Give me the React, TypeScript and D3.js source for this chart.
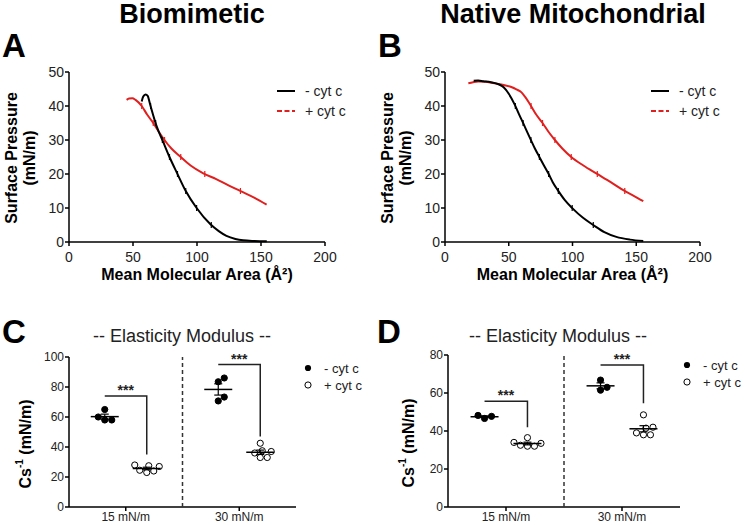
import React from 'react';
import * as d3 from 'd3';

const FONT = '"Liberation Sans", Arial, Helvetica, sans-serif';

// ---------- Panel A: Biomimetic isotherms ----------
const bioNegArea = [56.8, 58, 59.8, 61.5, 63, 64.6, 68.5, 73.5, 78.5, 84.5, 91.2, 99.7, 110.5, 117, 123, 130, 136, 145, 154.5];
const bioNegPressure = [41.3, 42.8, 43.4, 43, 41, 38.8, 34, 29.5, 25, 20.2, 15, 10, 5.2, 3.2, 1.8, 0.9, 0.5, 0.3, 0.2];
const bioPosArea = [45, 47, 49.5, 52, 56.8, 61, 65.8, 70, 74, 80, 86.7, 95, 104.9, 115, 125, 134.5, 145, 154.4];
const bioPosPressure = [41.8, 42.2, 42.3, 41.8, 40, 37.5, 35, 32.5, 30.3, 27.5, 25.2, 22.5, 20.2, 18.5, 16.6, 14.9, 13, 11];

// ---------- Panel B: Native mitochondrial isotherms ----------
const natNegArea = [22.5, 26, 30, 36, 42, 46, 50, 54.7, 58, 61.5, 64.5, 67.5, 70.5, 73.9, 77.5, 81, 84.5, 88.7, 94, 100, 108, 116.3, 125, 134.4, 145, 155.5];
const natNegPressure = [47.4, 47.5, 47.3, 47, 46.4, 45.5, 43.6, 40.4, 37.6, 34.8, 32.3, 29.9, 27.5, 25.1, 22.6, 20.2, 17.6, 15.1, 12.3, 9.9, 7.2, 5, 2.9, 1.5, 0.7, 0.3];
const natPosArea = [18.3, 22, 26, 32, 40, 46, 52, 56, 60, 63, 67, 71.5, 76.5, 81, 86.2, 92, 99, 108.5, 119, 130, 140.5, 148, 155.5];
const natPosPressure = [46.7, 47, 47.2, 47.1, 46.6, 46.2, 45.6, 44.9, 44, 42.6, 40.3, 37.5, 35, 32.5, 30, 27.5, 25, 22.5, 20.1, 17.6, 15.1, 13.6, 12];

const areaTicks = [0, 50, 100, 150, 200];
const pressureTicks = [0, 10, 20, 30, 40, 50];
const markerLevels = [5, 10, 15, 20, 25, 30, 35, 40];

// ---------- Panels C / D: elasticity modulus ----------
const categories = ['15 mN/m', '30 mN/m'];
const cNeg15 = [60, 65, 58, 58];
const cPos15 = [27, 28, 27.5, 24, 23, 24.5];
const cNeg30 = [86, 83.5, 70.7, 73.3];
const cPos30 = [42.5, 37, 37.5, 36, 33, 33];
const cBracketTop = [74, 95];
const cBracketBottom = [35, 47];
const cTicks = [0, 20, 40, 60, 80, 100];

const dNeg15 = [48.2, 46.6, 47.7];
const dPos15 = [36.5, 34, 32, 32, 32.5, 33.5];
const dNeg30 = [66.8, 61.5, 63];
const dPos30 = [48.5, 41.5, 42, 38, 38, 39];
const dBracketTop = [55.6, 74.7];
const dBracketBottom = [42, 54.6];
const dTicks = [0, 20, 40, 60, 80];

const seriesLabels = ['- cyt c', '+ cyt c'];
const RED = '#e0201f';

type Lin = d3.ScaleLinear<number, number>;

function markers(xs: number[], ys: number[]) {
  // crossings of the descending branch with each level
  let peak = 0;
  ys.forEach((v, i) => { if (v > ys[peak]) peak = i; });
  const out: { x: number; y: number }[] = [];
  markerLevels.forEach((lv) => {
    for (let i = peak; i < ys.length - 1; i++) {
      if (ys[i] >= lv && ys[i + 1] < lv) {
        const t = (ys[i] - lv) / (ys[i] - ys[i + 1]);
        out.push({ x: xs[i] + t * (xs[i + 1] - xs[i]), y: lv });
        break;
      }
    }
  });
  return out;
}

function Isotherm(props: {
  x: Lin; y: Lin; title: string; letter: string; titleX: number; letterX: number;
  ylab1X: number; ylab2X: number; legendX: number;
  negA: number[]; negP: number[]; posA: number[]; posP: number[];
}) {
  const { x, y } = props;
  const line = d3.line<[number, number]>().x((d) => x(d[0])).y((d) => y(d[1])).curve(d3.curveMonotoneX);
  const neg = props.negA.map((a, i) => [a, props.negP[i]] as [number, number]);
  const pos = props.posA.map((a, i) => [a, props.posP[i]] as [number, number]);
  const [x0, x1] = x.range();
  const [y0, y1] = y.range();
  const xc = (x0 + x1) / 2;
  const yc = (y0 + y1) / 2;
  return (
    <g fontFamily={FONT}>
      <text x={props.titleX} y={23} fontSize={27} fontWeight="bold" textAnchor="middle">{props.title}</text>
      <text x={props.letterX} y={57} fontSize={33} fontWeight="bold">{props.letter}</text>
      {/* axes */}
      <line x1={x0} x2={x1} y1={y0} y2={y0} stroke="#000" strokeWidth={1.5} />
      <line x1={x0} x2={x0} y1={y0} y2={y1} stroke="#000" strokeWidth={1.5} />
      {areaTicks.map((t) => (
        <g key={'x' + t}>
          <line x1={x(t)} x2={x(t)} y1={y0} y2={y0 + 4} stroke="#000" strokeWidth={1.5} />
          <text x={x(t)} y={y0 + 20} fontSize={14} textAnchor="middle" fill="#222">{t}</text>
        </g>
      ))}
      {pressureTicks.map((t) => (
        <g key={'y' + t}>
          <line x1={x0 - 4} x2={x0} y1={y(t)} y2={y(t)} stroke="#000" strokeWidth={1.5} />
          <text x={x0 - 5} y={y(t)} dy="0.35em" fontSize={14} textAnchor="end" fill="#222">{t}</text>
        </g>
      ))}
      <text x={xc} y={280} fontSize={16} fontWeight="bold" textAnchor="middle">Mean Molecular Area (Å²)</text>
      <text transform={`translate(${props.ylab1X},${yc + 1}) rotate(-90)`} fontSize={16} fontWeight="bold" textAnchor="middle" dominantBaseline="central">Surface Pressure</text>
      <text transform={`translate(${props.ylab2X},${yc + 1}) rotate(-90)`} fontSize={16} fontWeight="bold" textAnchor="middle" dominantBaseline="central">(mN/m)</text>
      {/* curves */}
      <path d={line(pos) || ''} fill="none" stroke={RED} strokeWidth={2} />
      <path d={line(neg) || ''} fill="none" stroke="#000" strokeWidth={2} />
      {markers(props.posA, props.posP).map((m, i) => (
        <line key={'pm' + i} x1={x(m.x)} x2={x(m.x)} y1={y(m.y) - 3} y2={y(m.y) + 3} stroke={RED} strokeWidth={1.2} />
      ))}
      {markers(props.negA, props.negP).map((m, i) => (
        <line key={'nm' + i} x1={x(m.x)} x2={x(m.x)} y1={y(m.y) - 3} y2={y(m.y) + 3} stroke="#000" strokeWidth={1.2} />
      ))}
      {/* legend */}
      <line x1={props.legendX} x2={props.legendX + 18} y1={91} y2={91} stroke="#000" strokeWidth={2} />
      <text x={props.legendX + 28} y={96} fontSize={14} fill="#222">{seriesLabels[0]}</text>
      <line x1={props.legendX} x2={props.legendX + 18} y1={111} y2={111} stroke={RED} strokeWidth={2} strokeDasharray="5,2.5" />
      <text x={props.legendX + 28} y={116} fontSize={14} fill="#222">{seriesLabels[1]}</text>
    </g>
  );
}

function swarm(values: number[], y: Lin, cx: number, r: number) {
  const order = values.map((_, i) => i).sort((a, b) => values[a] - values[b]);
  const placed: { x: number; y: number }[] = [];
  const xs = new Array(values.length).fill(cx);
  order.forEach((i) => {
    const py = y(values[i]);
    for (let k = 0; k < 400; k++) {
      const off = k === 0 ? 0 : (k % 2 === 1 ? 1 : -1) * Math.ceil(k / 2) * 0.5;
      const px = cx + off;
      if (placed.every((p) => (p.x - px) ** 2 + (p.y - py) ** 2 >= (2 * r) ** 2)) {
        placed.push({ x: px, y: py });
        xs[i] = px;
        break;
      }
    }
  });
  return xs;
}

function Group(props: { values: number[]; cx: number; y: Lin; open: boolean }) {
  const { values, cx, y, open } = props;
  const xs = swarm(values, y, cx, 3.5);
  const m = d3.mean(values) || 0;
  const sem = (d3.deviation(values) || 0) / Math.sqrt(values.length);
  return (
    <g>
      {values.map((v, i) => (
        <circle key={i} cx={xs[i]} cy={y(v)} r={3.1} fill={open ? '#fff' : '#000'} stroke="#000" strokeWidth={1} />
      ))}
      <line x1={cx - 14} x2={cx + 14} y1={y(m)} y2={y(m)} stroke="#000" strokeWidth={1.5} />
      <line x1={cx} x2={cx} y1={y(m - sem)} y2={y(m + sem)} stroke="#000" strokeWidth={1.2} />
      <line x1={cx - 4} x2={cx + 4} y1={y(m + sem)} y2={y(m + sem)} stroke="#000" strokeWidth={1.2} />
      <line x1={cx - 4} x2={cx + 4} y1={y(m - sem)} y2={y(m - sem)} stroke="#000" strokeWidth={1.2} />
    </g>
  );
}

function Modulus(props: {
  x: Lin; y: Lin; letter: string; letterX: number; titleX: number; ylabX: number;
  legendX: number; legendY: number; ticks: number[];
  neg: number[][]; pos: number[][]; bTop: number[]; bBottom: number[];
}) {
  const { x, y } = props;
  const [x0, x1] = x.range();
  const [y0, y1] = y.range();
  const yc = (y0 + y1) / 2;
  const off = 0.37;
  return (
    <g fontFamily={FONT}>
      <text x={props.letterX} y={343} fontSize={33} fontWeight="bold">{props.letter}</text>
      <text x={props.titleX} y={342} fontSize={18} textAnchor="middle" fill="#222">-- Elasticity Modulus --</text>
      <line x1={x0} x2={x1} y1={y0} y2={y0} stroke="#000" strokeWidth={1.5} />
      <line x1={x0} x2={x0} y1={y0} y2={y1} stroke="#000" strokeWidth={1.5} />
      {props.ticks.map((t) => (
        <g key={'y' + t}>
          <line x1={x0 - 4} x2={x0} y1={y(t)} y2={y(t)} stroke="#000" strokeWidth={1.5} />
          <text x={x0 - 5} y={y(t)} dy="0.35em" fontSize={12} textAnchor="end" fill="#222">{t}</text>
        </g>
      ))}
      {categories.map((c, i) => (
        <g key={c}>
          <line x1={x(1 + 2 * i)} x2={x(1 + 2 * i)} y1={y0} y2={y0 + 4} stroke="#000" strokeWidth={1.5} />
          <text x={x(1 + 2 * i)} y={521} fontSize={12} textAnchor="middle" fill="#222">{c}</text>
        </g>
      ))}
      <line x1={x(2)} x2={x(2)} y1={y0} y2={y1} stroke="#333" strokeWidth={1.5} strokeDasharray="4,3" />
      <text transform={`translate(${props.ylabX},${yc + 12}) rotate(-90)`} fontSize={16} fontWeight="bold" textAnchor="middle" dominantBaseline="central">
        Cs<tspan fontSize={10} dy={-6}>-1</tspan><tspan dy={6}> (mN/m)</tspan>
      </text>
      {categories.map((c, i) => {
        const cn = x(1 + 2 * i - off);
        const cp = x(1 + 2 * i + off);
        const top = y(props.bTop[i]);
        return (
          <g key={'g' + c}>
            <Group values={props.neg[i]} cx={cn} y={y} open={false} />
            <Group values={props.pos[i]} cx={cp} y={y} open={true} />
            <path d={`M${cn},${top}H${cp}V${y(props.bBottom[i])}`} fill="none" stroke="#222" strokeWidth={1.5} />
            <text x={(cn + cp) / 2} y={top - 1} fontSize={14} fontWeight="bold" textAnchor="middle" fill="#222">***</text>
          </g>
        );
      })}
      {/* legend */}
      <circle cx={props.legendX} cy={props.legendY} r={3.1} fill="#000" />
      <text x={props.legendX + 16} y={props.legendY + 4.5} fontSize={13} fill="#222">{seriesLabels[0]}</text>
      <circle cx={props.legendX} cy={props.legendY + 17} r={3.1} fill="#fff" stroke="#000" strokeWidth={1} />
      <text x={props.legendX + 16} y={props.legendY + 21.5} fontSize={13} fill="#222">{seriesLabels[1]}</text>
    </g>
  );
}

export default function App() {
  const xA = d3.scaleLinear().domain([0, 200]).range([69, 325]);
  const yA = d3.scaleLinear().domain([0, 50]).range([242, 72]);
  const xB = d3.scaleLinear().domain([0, 200]).range([445, 700]);
  const yB = d3.scaleLinear().domain([0, 50]).range([242, 72]);
  const xC = d3.scaleLinear().domain([0, 4]).range([69, 296]);
  const yC = d3.scaleLinear().domain([0, 100]).range([507, 357]);
  const xD = d3.scaleLinear().domain([0, 4]).range([448, 680]);
  const yD = d3.scaleLinear().domain([0, 80]).range([507, 355]);
  return (
    <svg width={745} height={525} style={{ position: 'absolute', left: 0, top: 0, background: '#fff' }}>
      <rect width={745} height={525} fill="#fff" />
      <Isotherm x={xA} y={yA} title="Biomimetic" letter="A" titleX={192} letterX={2} ylab1X={11} ylab2X={29} legendX={277}
        negA={bioNegArea} negP={bioNegPressure} posA={bioPosArea} posP={bioPosPressure} />
      <Isotherm x={xB} y={yB} title="Native Mitochondrial" letter="B" titleX={573} letterX={378} ylab1X={387} ylab2X={405} legendX={651}
        negA={natNegArea} negP={natNegPressure} posA={natPosArea} posP={natPosPressure} />
      <Modulus x={xC} y={yC} letter="C" letterX={2} titleX={182} ylabX={25} legendX={308} legendY={368} ticks={cTicks}
        neg={[cNeg15, cNeg30]} pos={[cPos15, cPos30]} bTop={cBracketTop} bBottom={cBracketBottom} />
      <Modulus x={xD} y={yD} letter="D" letterX={377} titleX={558} ylabX={408} legendX={687} legendY={365} ticks={dTicks}
        neg={[dNeg15, dNeg30]} pos={[dPos15, dPos30]} bTop={dBracketTop} bBottom={dBracketBottom} />
    </svg>
  );
}
